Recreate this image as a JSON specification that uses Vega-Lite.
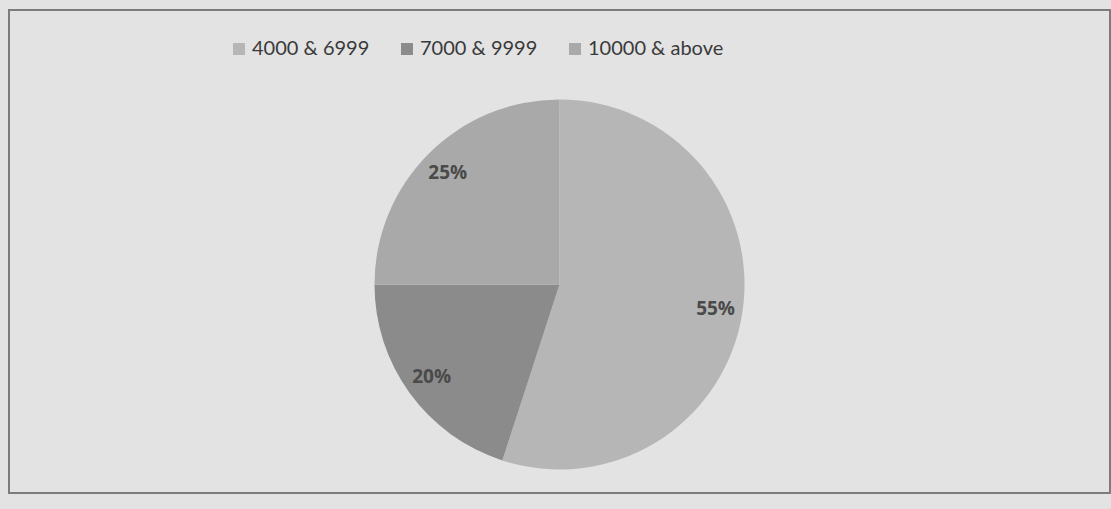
{
  "$schema": "https://vega.github.io/schema/vega-lite/v6.json",
  "width": 1111,
  "height": 509,
  "autosize": {"type": "fit", "contains": "padding"},
  "padding": {"left": 8, "top": 9, "right": 0, "bottom": 15},
  "background": "#e3e3e3",
  "config": {
    "view": {"stroke": null},
    "font": "Lato"
  },
  "data": {
    "values": [
      {"range": "4000 & 6999", "pct": 55, "label": "55%", "idx": 1},
      {"range": "7000 & 9999", "pct": 20, "label": "20%", "idx": 2},
      {"range": "10000 & above", "pct": 25, "label": "25%", "idx": 3}
    ]
  },
  "layer": [
    {
      "data": {"values": [{"frame": 1}]},
      "mark": {"type": "rect", "fill": null, "stroke": "#7c7c7c", "strokeWidth": 2},
      "encoding": {
        "x": {"value": 0},
        "x2": {"value": "width"},
        "y": {"value": 0},
        "y2": {"value": "height"}
      }
    },
    {
      "mark": {"type": "arc", "outerRadius": 185, "yOffset": 33},
      "encoding": {
        "theta": {"field": "pct", "type": "quantitative", "stack": true},
        "order": {"field": "idx", "type": "quantitative"},
        "color": {
          "field": "range",
          "type": "nominal",
          "scale": {
            "domain": ["4000 & 6999", "7000 & 9999", "10000 & above"],
            "range": ["#b6b6b6", "#8b8b8b", "#a9a9a9"]
          },
          "legend": {
            "title": null,
            "orient": "none",
            "direction": "horizontal",
            "legendX": 220,
            "legendY": 29,
            "padding": 0,
            "symbolType": "square",
            "symbolSize": 144,
            "symbolStrokeWidth": 0,
            "symbolOffset": 0,
            "labelFontSize": 20,
            "labelFont": "Lato",
            "labelColor": "#3a3a3a",
            "labelOffset": 3,
            "columnPadding": 27
          }
        }
      }
    },
    {
      "mark": {"type": "text", "radius": 158, "yOffset": 33, "fontSize": 19, "fontWeight": "bold", "font": "Open Sans", "color": "#4a4a4a"},
      "encoding": {
        "theta": {"field": "pct", "type": "quantitative", "stack": true},
        "order": {"field": "idx", "type": "quantitative"},
        "text": {"field": "label", "type": "nominal"}
      }
    }
  ]
}
